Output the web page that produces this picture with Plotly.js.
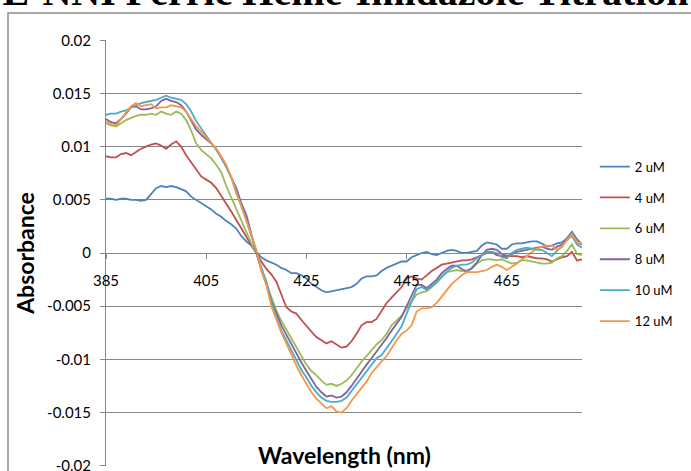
<!DOCTYPE html>
<html>
<head>
<meta charset="utf-8">
<script src="https://cdn.plot.ly/plotly-3.0.1.min.js"></script>
<style>
html,body{margin:0;padding:0;background:#fff;}
#chart{width:691px;height:471px;}
</style>
</head>
<body>
<div id="chart"></div>
<script>
var wavelength = [385,386,387,388,389,390,391,392,393,394,395,396,397,398,399,400,401,402,403,404,405,406,407,408,409,410,411,412,413,414,415,416,417,418,419,420,421,422,423,424,425,426,427,428,429,430,431,432,433,434,435,436,437,438,439,440,441,442,443,444,445,446,447,448,449,450,451,452,453,454,455,456,457,458,459,460,461,462,463,464,465,466,467,468,469,470,471,472,473,474,475,476,477,478,479,480];

var seriesNames = ["2 uM","4 uM","6 uM","8 uM","10 uM","12 uM"];

var abs2uM = [0.0051,0.0051,0.0050,0.0051,0.0051,0.0050,0.0050,0.0049,0.0050,0.0056,0.0061,0.0063,0.0062,0.0063,0.0062,0.0060,0.0058,0.0053,0.0050,0.0047,0.0044,0.0041,0.0037,0.0034,0.0030,0.0027,0.0023,0.0016,0.0011,0.0007,0.0001,-0.0004,-0.0007,-0.0009,-0.0011,-0.0014,-0.0016,-0.0019,-0.0019,-0.0021,-0.0024,-0.0029,-0.0032,-0.0035,-0.0037,-0.0036,-0.0035,-0.0034,-0.0033,-0.0032,-0.0029,-0.0024,-0.0022,-0.0022,-0.0021,-0.0017,-0.0014,-0.0012,-0.0010,-0.0008,-0.0008,-0.0004,-0.0002,0.0000,0.0001,-0.0001,-0.0002,0.0000,0.0002,0.0003,0.0002,0.0000,0.0000,0.0001,0.0002,0.0007,0.0010,0.0009,0.0008,0.0004,0.0004,0.0008,0.0009,0.0009,0.0010,0.0011,0.0011,0.0009,0.0006,0.0007,0.0009,0.0010,0.0014,0.0020,0.0013,0.0008];

var abs4uM = [0.0091,0.0090,0.0090,0.0093,0.0094,0.0092,0.0095,0.0098,0.0100,0.0102,0.0103,0.0101,0.0098,0.0102,0.0105,0.0100,0.0092,0.0085,0.0078,0.0072,0.0069,0.0066,0.0061,0.0054,0.0046,0.0039,0.0031,0.0023,0.0015,0.0007,0.0000,-0.0008,-0.0015,-0.0020,-0.0027,-0.0040,-0.0051,-0.0055,-0.0057,-0.0063,-0.0069,-0.0074,-0.0079,-0.0082,-0.0085,-0.0083,-0.0086,-0.0089,-0.0088,-0.0083,-0.0076,-0.0068,-0.0065,-0.0065,-0.0062,-0.0055,-0.0047,-0.0042,-0.0037,-0.0032,-0.0024,-0.0022,-0.0024,-0.0025,-0.0021,-0.0017,-0.0014,-0.0011,-0.0010,-0.0009,-0.0008,-0.0007,-0.0007,-0.0006,-0.0004,-0.0002,0.0000,0.0001,-0.0002,-0.0003,-0.0003,-0.0003,-0.0003,-0.0004,-0.0003,-0.0004,-0.0005,-0.0005,-0.0006,-0.0008,-0.0006,-0.0004,-0.0003,0.0001,-0.0007,-0.0006];

var abs6uM = [0.0122,0.0120,0.0119,0.0122,0.0125,0.0127,0.0129,0.0130,0.0130,0.0131,0.0130,0.0133,0.0131,0.0130,0.0133,0.0131,0.0125,0.0115,0.0103,0.0097,0.0093,0.0089,0.0083,0.0076,0.0063,0.0052,0.0041,0.0030,0.0019,0.0009,0.0000,-0.0016,-0.0029,-0.0042,-0.0054,-0.0064,-0.0072,-0.0081,-0.0089,-0.0097,-0.0105,-0.0111,-0.0115,-0.0120,-0.0124,-0.0123,-0.0125,-0.0123,-0.0120,-0.0115,-0.0108,-0.0102,-0.0097,-0.0091,-0.0086,-0.0082,-0.0076,-0.0068,-0.0063,-0.0059,-0.0052,-0.0045,-0.0039,-0.0037,-0.0036,-0.0032,-0.0028,-0.0023,-0.0018,-0.0017,-0.0016,-0.0017,-0.0016,-0.0015,-0.0010,-0.0007,-0.0006,-0.0006,-0.0007,-0.0006,-0.0008,-0.0010,-0.0009,-0.0007,-0.0007,-0.0008,-0.0009,-0.0010,-0.0010,-0.0009,-0.0005,-0.0003,0.0002,0.0008,-0.0001,-0.0002];

var abs8uM = [0.0126,0.0123,0.0122,0.0126,0.0131,0.0137,0.0138,0.0135,0.0135,0.0136,0.0138,0.0143,0.0145,0.0143,0.0142,0.0139,0.0133,0.0125,0.0116,0.0111,0.0107,0.0103,0.0098,0.0090,0.0081,0.0071,0.0061,0.0047,0.0036,0.0018,0.0000,-0.0015,-0.0027,-0.0045,-0.0057,-0.0068,-0.0077,-0.0086,-0.0094,-0.0103,-0.0111,-0.0119,-0.0126,-0.0131,-0.0135,-0.0134,-0.0136,-0.0135,-0.0131,-0.0125,-0.0118,-0.0111,-0.0105,-0.0099,-0.0093,-0.0087,-0.0080,-0.0073,-0.0066,-0.0060,-0.0050,-0.0040,-0.0030,-0.0030,-0.0033,-0.0029,-0.0025,-0.0019,-0.0015,-0.0012,-0.0012,-0.0015,-0.0018,-0.0014,-0.0009,-0.0002,0.0003,0.0004,0.0003,-0.0001,-0.0003,-0.0001,0.0001,0.0002,0.0003,0.0004,0.0005,0.0006,0.0004,0.0003,0.0006,0.0008,0.0012,0.0017,0.0010,0.0008];

var abs10uM = [0.0130,0.0131,0.0131,0.0133,0.0134,0.0137,0.0139,0.0141,0.0142,0.0143,0.0144,0.0146,0.0148,0.0146,0.0145,0.0144,0.0140,0.0133,0.0124,0.0117,0.0110,0.0104,0.0097,0.0090,0.0081,0.0071,0.0058,0.0045,0.0031,0.0016,0.0002,-0.0014,-0.0028,-0.0046,-0.0061,-0.0073,-0.0082,-0.0091,-0.0100,-0.0110,-0.0117,-0.0125,-0.0131,-0.0136,-0.0139,-0.0140,-0.0140,-0.0139,-0.0136,-0.0130,-0.0123,-0.0117,-0.0111,-0.0105,-0.0099,-0.0096,-0.0090,-0.0083,-0.0076,-0.0069,-0.0057,-0.0046,-0.0034,-0.0032,-0.0035,-0.0031,-0.0027,-0.0022,-0.0018,-0.0014,-0.0012,-0.0011,-0.0011,-0.0009,-0.0005,-0.0002,0.0001,0.0001,0.0000,-0.0004,-0.0005,0.0000,0.0003,0.0004,0.0005,0.0004,0.0003,0.0003,0.0000,-0.0003,0.0002,0.0006,0.0013,0.0016,0.0008,0.0005];

var abs12uM = [0.0124,0.0121,0.0120,0.0126,0.0131,0.0138,0.0141,0.0138,0.0139,0.0140,0.0136,0.0137,0.0137,0.0139,0.0138,0.0137,0.0133,0.0126,0.0119,0.0114,0.0109,0.0104,0.0098,0.0091,0.0083,0.0071,0.0056,0.0044,0.0031,0.0017,0.0003,-0.0017,-0.0030,-0.0050,-0.0063,-0.0075,-0.0085,-0.0096,-0.0106,-0.0115,-0.0123,-0.0131,-0.0137,-0.0142,-0.0146,-0.0144,-0.0149,-0.0150,-0.0146,-0.0139,-0.0133,-0.0127,-0.0121,-0.0113,-0.0107,-0.0102,-0.0097,-0.0089,-0.0082,-0.0076,-0.0073,-0.0068,-0.0055,-0.0052,-0.0052,-0.0051,-0.0047,-0.0041,-0.0035,-0.0029,-0.0025,-0.0021,-0.0018,-0.0018,-0.0018,-0.0017,-0.0016,-0.0013,-0.0011,-0.0013,-0.0016,-0.0013,-0.0010,-0.0006,-0.0003,0.0001,0.0004,0.0006,0.0007,0.0007,0.0003,0.0006,0.0012,0.0018,0.0010,0.0009];

var xTickVals = [385,405,425,445,465];
var yTickVals = [0.02,0.015,0.01,0.005,0,-0.005,-0.01,-0.015,-0.02];
var yTickText = ["0.02","0.015","0.01","0.005","0","-0.005","-0.01","-0.015","-0.02"];

var colors = ["#4F81BD","#C0504D","#9BBB59","#8064A2","#4BACC6","#F79646"];
var allSeries = [abs2uM,abs4uM,abs6uM,abs8uM,abs10uM,abs12uM];

var traces = allSeries.map(function(s,i){
  return {
    x: wavelength, y: s, type:'scatter', mode:'lines',
    name: seriesNames[i], legendgroup: 'g'+i,
    line:{color:colors[i], width:1.8}
  };
});

var grey = '#868686';
var layout = {
  width:691, height:471,
  margin:{l:106, r:109, t:40, b:5},
  paper_bgcolor:'#fff', plot_bgcolor:'#fff',
  font:{family:'Lato, "Open Sans", sans-serif', size:15, color:'#000'},
  showlegend:true,
  title:{
    text:'E-NNI Ferric Heme-Imidazole Titration',
    font:{family:'"Liberation Serif", "DejaVu Serif", serif', size:40, color:'#000', weight:'bold'},
    xref:'container', x:0.5, xanchor:'center',
    yref:'container', y:0.9894, yanchor:'bottom'
  },
  xaxis:{
    range:[385,480], anchor:'free', position:0.5,
    tickvals:xTickVals, ticks:'outside', ticklen:5, tickcolor:grey,
    showline:true, linecolor:grey, linewidth:1,
    showgrid:false, zeroline:false,
    ticklabelstandoff:9,
    tickfont:{size:15}
  },
  yaxis:{
    range:[-0.02003,0.02003],
    tickvals:yTickVals, ticktext:yTickText,
    ticks:'outside', ticklen:5, tickcolor:grey,
    showline:true, linecolor:grey, linewidth:1,
    showgrid:true, gridcolor:grey, gridwidth:1,
    zeroline:false,
    ticklabelstandoff:6,
    ticklabeloverflow:'allow',
    tickfont:{size:15},
    title:{text:'Absorbance', font:{size:23, weight:'bold'}, standoff:6}
  },
  legend:{
    x:1.027, xanchor:'left', y:0.738, yanchor:'top',
    font:{size:13}, tracegroupgap:11,
    bgcolor:'rgba(0,0,0,0)'
  },
  annotations:[{
    text:'Wavelength (nm)', xref:'paper', yref:'paper',
    x:0.5, y:(466-471)/426, xanchor:'center', yanchor:'bottom',
    showarrow:false, font:{size:23, weight:'bold'}, bgcolor:'#fff'
  }],
  shapes:[{
    type:'rect', xref:'paper', yref:'paper',
    x0:(8-106)/476, x1:1.4, y0:-0.2, y1:(466-13)/426,
    line:{color:'#8c8c8c', width:1.5}, fillcolor:'rgba(0,0,0,0)', layer:'below'
  }]
};

Plotly.newPlot('chart', traces, layout, {displayModeBar:false, staticPlot:true});
</script>
</body>
</html>
